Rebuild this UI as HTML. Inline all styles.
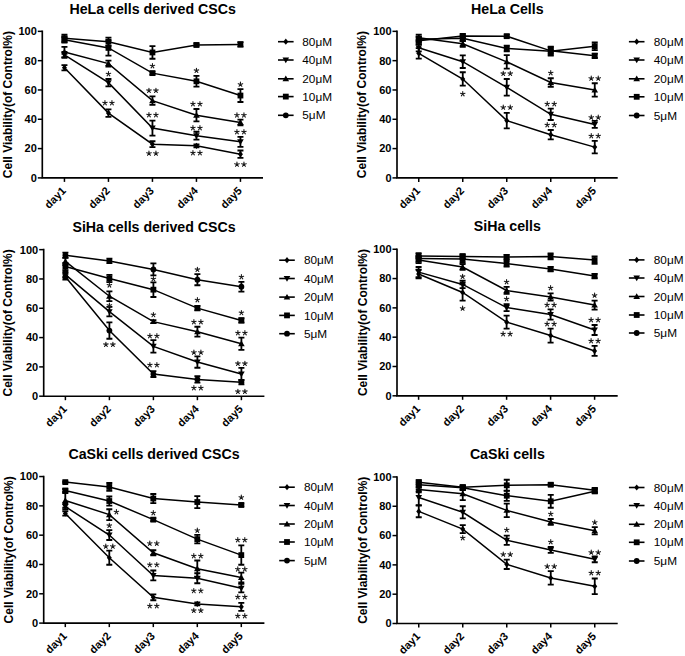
<!DOCTYPE html>
<html><head><meta charset="utf-8"><style>
html,body{margin:0;padding:0;background:#fff;overflow:hidden;}
svg{display:block;}
text{font-family:"Liberation Sans", sans-serif;fill:#000;}
</style></head><body>
<svg width="685" height="656" viewBox="0 0 685 656">
<rect width="685" height="656" fill="#fff"/>
<path d="M42.30 30.55V177.90H263.00" fill="none" stroke="#000" stroke-width="1.65"/>
<path d="M37.80 177.90H42.30" stroke="#000" stroke-width="1.5"/>
<text x="36.80" y="181.80" text-anchor="end" font-size="11" font-weight="bold">0</text>
<path d="M37.80 148.59H42.30" stroke="#000" stroke-width="1.5"/>
<text x="36.80" y="152.49" text-anchor="end" font-size="11" font-weight="bold">20</text>
<path d="M37.80 119.28H42.30" stroke="#000" stroke-width="1.5"/>
<text x="36.80" y="123.18" text-anchor="end" font-size="11" font-weight="bold">40</text>
<path d="M37.80 89.97H42.30" stroke="#000" stroke-width="1.5"/>
<text x="36.80" y="93.87" text-anchor="end" font-size="11" font-weight="bold">60</text>
<path d="M37.80 60.66H42.30" stroke="#000" stroke-width="1.5"/>
<text x="36.80" y="64.56" text-anchor="end" font-size="11" font-weight="bold">80</text>
<path d="M37.80 31.35H42.30" stroke="#000" stroke-width="1.5"/>
<text x="36.80" y="35.25" text-anchor="end" font-size="11" font-weight="bold">100</text>
<path d="M64.45 177.90V181.90" stroke="#000" stroke-width="1.5"/>
<text transform="translate(66.65 191.40) rotate(-45)" text-anchor="end" font-size="11" font-weight="bold">day1</text>
<path d="M108.45 177.90V181.90" stroke="#000" stroke-width="1.5"/>
<text transform="translate(110.65 191.40) rotate(-45)" text-anchor="end" font-size="11" font-weight="bold">day2</text>
<path d="M152.45 177.90V181.90" stroke="#000" stroke-width="1.5"/>
<text transform="translate(154.65 191.40) rotate(-45)" text-anchor="end" font-size="11" font-weight="bold">day3</text>
<path d="M196.45 177.90V181.90" stroke="#000" stroke-width="1.5"/>
<text transform="translate(198.65 191.40) rotate(-45)" text-anchor="end" font-size="11" font-weight="bold">day4</text>
<path d="M240.45 177.90V181.90" stroke="#000" stroke-width="1.5"/>
<text transform="translate(242.65 191.40) rotate(-45)" text-anchor="end" font-size="11" font-weight="bold">day5</text>
<text transform="translate(11.80 104.62) rotate(-90)" text-anchor="middle" font-size="12" font-weight="bold">Cell Viability(of Control%)</text>
<text x="152.65" y="13.55" text-anchor="middle" font-size="14.2" font-weight="bold">HeLa cells derived CSCs</text>
<path d="M278.00 41.70H293.60" stroke="#000" stroke-width="1.6"/>
<path d="M285.80 38.60L288.30 41.70L285.80 44.80L283.30 41.70Z"/>
<text x="302.30" y="45.80" font-size="11.8" fill="#1a1a1a">80μM</text>
<path d="M278.00 60.00H293.60" stroke="#000" stroke-width="1.6"/>
<path d="M285.80 63.20L289.10 57.50L282.50 57.50Z"/>
<text x="302.30" y="64.10" font-size="11.8" fill="#1a1a1a">40μM</text>
<path d="M278.00 78.80H293.60" stroke="#000" stroke-width="1.6"/>
<path d="M285.80 75.60L289.10 81.30L282.50 81.30Z"/>
<text x="302.30" y="82.90" font-size="11.8" fill="#1a1a1a">20μM</text>
<path d="M278.00 96.60H293.60" stroke="#000" stroke-width="1.6"/>
<rect x="282.90" y="93.70" width="5.80" height="5.80"/>
<text x="302.30" y="100.70" font-size="11.8" fill="#1a1a1a">10μM</text>
<path d="M278.00 115.30H293.60" stroke="#000" stroke-width="1.6"/>
<circle cx="285.80" cy="115.30" r="2.90"/>
<text x="302.30" y="119.40" font-size="11.8" fill="#1a1a1a">5μM</text>
<polyline fill="none" stroke="#000" stroke-width="1.5" points="64.45,38.24 108.45,41.76 152.45,52.45 196.45,44.98 240.45,44.39"/>
<path d="M64.45 34.57V41.90M61.45 34.57H67.45M61.45 41.90H67.45" stroke="#000" stroke-width="1.8" fill="none"/>
<rect x="61.55" y="35.34" width="5.80" height="5.80"/>
<path d="M108.45 37.65V45.86M105.45 37.65H111.45M105.45 45.86H111.45" stroke="#000" stroke-width="1.8" fill="none"/>
<rect x="105.55" y="38.86" width="5.80" height="5.80"/>
<path d="M152.45 46.15V58.75M149.45 46.15H155.45M149.45 58.75H155.45" stroke="#000" stroke-width="1.8" fill="none"/>
<rect x="149.55" y="49.55" width="5.80" height="5.80"/>
<path d="M196.45 43.51V46.44M193.45 43.51H199.45M193.45 46.44H199.45" stroke="#000" stroke-width="1.8" fill="none"/>
<rect x="193.55" y="42.08" width="5.80" height="5.80"/>
<path d="M240.45 42.19V46.59M237.45 42.19H243.45M237.45 46.59H243.45" stroke="#000" stroke-width="1.8" fill="none"/>
<rect x="237.55" y="41.49" width="5.80" height="5.80"/>
<polyline fill="none" stroke="#000" stroke-width="1.5" points="64.45,39.70 108.45,47.91 152.45,73.12 196.45,81.32 240.45,95.54"/>
<path d="M64.45 36.77V42.63M61.45 36.77H67.45M61.45 42.63H67.45" stroke="#000" stroke-width="1.8" fill="none"/>
<rect x="61.55" y="36.80" width="5.80" height="5.80"/>
<path d="M108.45 40.29V55.53M105.45 40.29H111.45M105.45 55.53H111.45" stroke="#000" stroke-width="1.8" fill="none"/>
<rect x="105.55" y="45.01" width="5.80" height="5.80"/>
<path d="M152.45 71.65V74.58M149.45 71.65H155.45M149.45 74.58H155.45" stroke="#000" stroke-width="1.8" fill="none"/>
<rect x="149.55" y="70.22" width="5.80" height="5.80"/>
<path d="M196.45 75.97V86.67M193.45 75.97H199.45M193.45 86.67H199.45" stroke="#000" stroke-width="1.8" fill="none"/>
<rect x="193.55" y="78.42" width="5.80" height="5.80"/>
<path d="M240.45 89.09V101.99M237.45 89.09H243.45M237.45 101.99H243.45" stroke="#000" stroke-width="1.8" fill="none"/>
<rect x="237.55" y="92.64" width="5.80" height="5.80"/>
<polyline fill="none" stroke="#000" stroke-width="1.5" points="64.45,52.01 108.45,63.59 152.45,100.67 196.45,115.18 240.45,122.50"/>
<path d="M64.45 46.88V57.14M61.45 46.88H67.45M61.45 57.14H67.45" stroke="#000" stroke-width="1.8" fill="none"/>
<path d="M64.45 48.81L67.75 54.51L61.15 54.51Z"/>
<path d="M108.45 60.66V66.52M105.45 60.66H111.45M105.45 66.52H111.45" stroke="#000" stroke-width="1.8" fill="none"/>
<path d="M108.45 60.39L111.75 66.09L105.15 66.09Z"/>
<path d="M152.45 96.42V104.92M149.45 96.42H155.45M149.45 104.92H155.45" stroke="#000" stroke-width="1.8" fill="none"/>
<path d="M152.45 97.47L155.75 103.17L149.15 103.17Z"/>
<path d="M196.45 109.02V121.33M193.45 109.02H199.45M193.45 121.33H199.45" stroke="#000" stroke-width="1.8" fill="none"/>
<path d="M196.45 111.98L199.75 117.68L193.15 117.68Z"/>
<path d="M240.45 119.57V125.44M237.45 119.57H243.45M237.45 125.44H243.45" stroke="#000" stroke-width="1.8" fill="none"/>
<path d="M240.45 119.30L243.75 125.00L237.15 125.00Z"/>
<polyline fill="none" stroke="#000" stroke-width="1.5" points="64.45,54.94 108.45,82.64 152.45,128.07 196.45,135.69 240.45,141.85"/>
<path d="M64.45 52.01V57.88M61.45 52.01H67.45M61.45 57.88H67.45" stroke="#000" stroke-width="1.8" fill="none"/>
<path d="M64.45 58.14L67.75 52.44L61.15 52.44Z"/>
<path d="M108.45 78.98V86.31M105.45 78.98H111.45M105.45 86.31H111.45" stroke="#000" stroke-width="1.8" fill="none"/>
<path d="M108.45 85.84L111.75 80.14L105.15 80.14Z"/>
<path d="M152.45 120.60V135.55M149.45 120.60H155.45M149.45 135.55H155.45" stroke="#000" stroke-width="1.8" fill="none"/>
<path d="M152.45 131.27L155.75 125.57L149.15 125.57Z"/>
<path d="M196.45 131.74V139.65M193.45 131.74H199.45M193.45 139.65H199.45" stroke="#000" stroke-width="1.8" fill="none"/>
<path d="M196.45 138.89L199.75 133.19L193.15 133.19Z"/>
<path d="M240.45 136.87V146.83M237.45 136.87H243.45M237.45 146.83H243.45" stroke="#000" stroke-width="1.8" fill="none"/>
<path d="M240.45 145.05L243.75 139.35L237.15 139.35Z"/>
<polyline fill="none" stroke="#000" stroke-width="1.5" points="64.45,67.69 108.45,113.12 152.45,144.19 196.45,145.81 240.45,154.16"/>
<path d="M64.45 65.06V70.33M61.45 65.06H67.45M61.45 70.33H67.45" stroke="#000" stroke-width="1.8" fill="none"/>
<path d="M64.45 64.59L66.95 67.69L64.45 70.79L61.95 67.69Z"/>
<path d="M108.45 109.46V116.79M105.45 109.46H111.45M105.45 116.79H111.45" stroke="#000" stroke-width="1.8" fill="none"/>
<path d="M108.45 110.02L110.95 113.12L108.45 116.22L105.95 113.12Z"/>
<path d="M152.45 141.26V147.12M149.45 141.26H155.45M149.45 147.12H155.45" stroke="#000" stroke-width="1.8" fill="none"/>
<path d="M152.45 141.09L154.95 144.19L152.45 147.29L149.95 144.19Z"/>
<path d="M196.45 144.34V147.27M193.45 144.34H199.45M193.45 147.27H199.45" stroke="#000" stroke-width="1.8" fill="none"/>
<path d="M196.45 142.71L198.95 145.81L196.45 148.91L193.95 145.81Z"/>
<path d="M240.45 150.50V157.82M237.45 150.50H243.45M237.45 157.82H243.45" stroke="#000" stroke-width="1.8" fill="none"/>
<path d="M240.45 151.06L242.95 154.16L240.45 157.26L237.95 154.16Z"/>
<path d="M108.45 74.00L108.45 71.65M108.45 74.00L110.68 73.27M108.45 74.00L109.83 75.90M108.45 74.00L107.07 75.90M108.45 74.00L106.22 73.27" stroke="#1a1a1a" stroke-width="1.1" stroke-linecap="round" fill="none"/>
<path d="M104.95 103.00L104.95 100.65M104.95 103.00L107.18 102.27M104.95 103.00L106.33 104.90M104.95 103.00L103.57 104.90M104.95 103.00L102.72 102.27M111.95 103.00L111.95 100.65M111.95 103.00L114.18 102.27M111.95 103.00L113.33 104.90M111.95 103.00L110.57 104.90M111.95 103.00L109.72 102.27" stroke="#1a1a1a" stroke-width="1.1" stroke-linecap="round" fill="none"/>
<path d="M152.45 66.00L152.45 63.65M152.45 66.00L154.68 65.27M152.45 66.00L153.83 67.90M152.45 66.00L151.07 67.90M152.45 66.00L150.22 65.27" stroke="#1a1a1a" stroke-width="1.1" stroke-linecap="round" fill="none"/>
<path d="M148.95 90.60L148.95 88.25M148.95 90.60L151.18 89.87M148.95 90.60L150.33 92.50M148.95 90.60L147.57 92.50M148.95 90.60L146.72 89.87M155.95 90.60L155.95 88.25M155.95 90.60L158.18 89.87M155.95 90.60L157.33 92.50M155.95 90.60L154.57 92.50M155.95 90.60L153.72 89.87" stroke="#1a1a1a" stroke-width="1.1" stroke-linecap="round" fill="none"/>
<path d="M148.95 115.00L148.95 112.65M148.95 115.00L151.18 114.27M148.95 115.00L150.33 116.90M148.95 115.00L147.57 116.90M148.95 115.00L146.72 114.27M155.95 115.00L155.95 112.65M155.95 115.00L158.18 114.27M155.95 115.00L157.33 116.90M155.95 115.00L154.57 116.90M155.95 115.00L153.72 114.27" stroke="#1a1a1a" stroke-width="1.1" stroke-linecap="round" fill="none"/>
<path d="M148.95 153.40L148.95 151.05M148.95 153.40L151.18 152.67M148.95 153.40L150.33 155.30M148.95 153.40L147.57 155.30M148.95 153.40L146.72 152.67M155.95 153.40L155.95 151.05M155.95 153.40L158.18 152.67M155.95 153.40L157.33 155.30M155.95 153.40L154.57 155.30M155.95 153.40L153.72 152.67" stroke="#1a1a1a" stroke-width="1.1" stroke-linecap="round" fill="none"/>
<path d="M196.45 70.60L196.45 68.25M196.45 70.60L198.68 69.87M196.45 70.60L197.83 72.50M196.45 70.60L195.07 72.50M196.45 70.60L194.22 69.87" stroke="#1a1a1a" stroke-width="1.1" stroke-linecap="round" fill="none"/>
<path d="M192.95 104.00L192.95 101.65M192.95 104.00L195.18 103.27M192.95 104.00L194.33 105.90M192.95 104.00L191.57 105.90M192.95 104.00L190.72 103.27M199.95 104.00L199.95 101.65M199.95 104.00L202.18 103.27M199.95 104.00L201.33 105.90M199.95 104.00L198.57 105.90M199.95 104.00L197.72 103.27" stroke="#1a1a1a" stroke-width="1.1" stroke-linecap="round" fill="none"/>
<path d="M192.95 128.00L192.95 125.65M192.95 128.00L195.18 127.27M192.95 128.00L194.33 129.90M192.95 128.00L191.57 129.90M192.95 128.00L190.72 127.27M199.95 128.00L199.95 125.65M199.95 128.00L202.18 127.27M199.95 128.00L201.33 129.90M199.95 128.00L198.57 129.90M199.95 128.00L197.72 127.27" stroke="#1a1a1a" stroke-width="1.1" stroke-linecap="round" fill="none"/>
<path d="M192.95 153.00L192.95 150.65M192.95 153.00L195.18 152.27M192.95 153.00L194.33 154.90M192.95 153.00L191.57 154.90M192.95 153.00L190.72 152.27M199.95 153.00L199.95 150.65M199.95 153.00L202.18 152.27M199.95 153.00L201.33 154.90M199.95 153.00L198.57 154.90M199.95 153.00L197.72 152.27" stroke="#1a1a1a" stroke-width="1.1" stroke-linecap="round" fill="none"/>
<path d="M240.45 84.40L240.45 82.05M240.45 84.40L242.68 83.67M240.45 84.40L241.83 86.30M240.45 84.40L239.07 86.30M240.45 84.40L238.22 83.67" stroke="#1a1a1a" stroke-width="1.1" stroke-linecap="round" fill="none"/>
<path d="M236.95 115.20L236.95 112.85M236.95 115.20L239.18 114.47M236.95 115.20L238.33 117.10M236.95 115.20L235.57 117.10M236.95 115.20L234.72 114.47M243.95 115.20L243.95 112.85M243.95 115.20L246.18 114.47M243.95 115.20L245.33 117.10M243.95 115.20L242.57 117.10M243.95 115.20L241.72 114.47" stroke="#1a1a1a" stroke-width="1.1" stroke-linecap="round" fill="none"/>
<path d="M236.95 132.00L236.95 129.65M236.95 132.00L239.18 131.27M236.95 132.00L238.33 133.90M236.95 132.00L235.57 133.90M236.95 132.00L234.72 131.27M243.95 132.00L243.95 129.65M243.95 132.00L246.18 131.27M243.95 132.00L245.33 133.90M243.95 132.00L242.57 133.90M243.95 132.00L241.72 131.27" stroke="#1a1a1a" stroke-width="1.1" stroke-linecap="round" fill="none"/>
<path d="M236.95 164.40L236.95 162.05M236.95 164.40L239.18 163.67M236.95 164.40L238.33 166.30M236.95 164.40L235.57 166.30M236.95 164.40L234.72 163.67M243.95 164.40L243.95 162.05M243.95 164.40L246.18 163.67M243.95 164.40L245.33 166.30M243.95 164.40L242.57 166.30M243.95 164.40L241.72 163.67" stroke="#1a1a1a" stroke-width="1.1" stroke-linecap="round" fill="none"/>
<path d="M397.00 30.55V177.90H617.70" fill="none" stroke="#000" stroke-width="1.65"/>
<path d="M392.50 177.90H397.00" stroke="#000" stroke-width="1.5"/>
<text x="391.50" y="181.80" text-anchor="end" font-size="11" font-weight="bold">0</text>
<path d="M392.50 148.59H397.00" stroke="#000" stroke-width="1.5"/>
<text x="391.50" y="152.49" text-anchor="end" font-size="11" font-weight="bold">20</text>
<path d="M392.50 119.28H397.00" stroke="#000" stroke-width="1.5"/>
<text x="391.50" y="123.18" text-anchor="end" font-size="11" font-weight="bold">40</text>
<path d="M392.50 89.97H397.00" stroke="#000" stroke-width="1.5"/>
<text x="391.50" y="93.87" text-anchor="end" font-size="11" font-weight="bold">60</text>
<path d="M392.50 60.66H397.00" stroke="#000" stroke-width="1.5"/>
<text x="391.50" y="64.56" text-anchor="end" font-size="11" font-weight="bold">80</text>
<path d="M392.50 31.35H397.00" stroke="#000" stroke-width="1.5"/>
<text x="391.50" y="35.25" text-anchor="end" font-size="11" font-weight="bold">100</text>
<path d="M418.75 177.90V181.90" stroke="#000" stroke-width="1.5"/>
<text transform="translate(420.95 191.40) rotate(-45)" text-anchor="end" font-size="11" font-weight="bold">day1</text>
<path d="M462.75 177.90V181.90" stroke="#000" stroke-width="1.5"/>
<text transform="translate(464.95 191.40) rotate(-45)" text-anchor="end" font-size="11" font-weight="bold">day2</text>
<path d="M506.75 177.90V181.90" stroke="#000" stroke-width="1.5"/>
<text transform="translate(508.95 191.40) rotate(-45)" text-anchor="end" font-size="11" font-weight="bold">day3</text>
<path d="M550.75 177.90V181.90" stroke="#000" stroke-width="1.5"/>
<text transform="translate(552.95 191.40) rotate(-45)" text-anchor="end" font-size="11" font-weight="bold">day4</text>
<path d="M594.75 177.90V181.90" stroke="#000" stroke-width="1.5"/>
<text transform="translate(596.95 191.40) rotate(-45)" text-anchor="end" font-size="11" font-weight="bold">day5</text>
<text transform="translate(366.00 104.62) rotate(-90)" text-anchor="middle" font-size="12" font-weight="bold">Cell Viability(of Control%)</text>
<text x="507.35" y="13.55" text-anchor="middle" font-size="14.2" font-weight="bold">HeLa Cells</text>
<path d="M628.90 41.70H644.50" stroke="#000" stroke-width="1.6"/>
<path d="M636.70 38.60L639.20 41.70L636.70 44.80L634.20 41.70Z"/>
<text x="653.80" y="45.80" font-size="11.8" fill="#1a1a1a">80μM</text>
<path d="M628.90 60.00H644.50" stroke="#000" stroke-width="1.6"/>
<path d="M636.70 63.20L640.00 57.50L633.40 57.50Z"/>
<text x="653.80" y="64.10" font-size="11.8" fill="#1a1a1a">40μM</text>
<path d="M628.90 78.80H644.50" stroke="#000" stroke-width="1.6"/>
<path d="M636.70 75.60L640.00 81.30L633.40 81.30Z"/>
<text x="653.80" y="82.90" font-size="11.8" fill="#1a1a1a">20μM</text>
<path d="M628.90 96.80H644.50" stroke="#000" stroke-width="1.6"/>
<rect x="633.80" y="93.90" width="5.80" height="5.80"/>
<text x="653.80" y="100.90" font-size="11.8" fill="#1a1a1a">10μM</text>
<path d="M628.90 115.50H644.50" stroke="#000" stroke-width="1.6"/>
<circle cx="636.70" cy="115.50" r="2.90"/>
<text x="653.80" y="119.60" font-size="11.8" fill="#1a1a1a">5μM</text>
<polyline fill="none" stroke="#000" stroke-width="1.5" points="418.75,40.73 462.75,36.04 506.75,36.19 550.75,50.84 594.75,55.82"/>
<path d="M418.75 37.07V44.39M415.75 37.07H421.75M415.75 44.39H421.75" stroke="#000" stroke-width="1.8" fill="none"/>
<rect x="415.85" y="37.83" width="5.80" height="5.80"/>
<path d="M462.75 33.84V38.24M459.75 33.84H465.75M459.75 38.24H465.75" stroke="#000" stroke-width="1.8" fill="none"/>
<rect x="459.85" y="33.14" width="5.80" height="5.80"/>
<path d="M506.75 34.72V37.65M503.75 34.72H509.75M503.75 37.65H509.75" stroke="#000" stroke-width="1.8" fill="none"/>
<rect x="503.85" y="33.29" width="5.80" height="5.80"/>
<path d="M550.75 47.18V54.50M547.75 47.18H553.75M547.75 54.50H553.75" stroke="#000" stroke-width="1.8" fill="none"/>
<rect x="547.85" y="47.94" width="5.80" height="5.80"/>
<path d="M594.75 53.63V58.02M591.75 53.63H597.75M591.75 58.02H597.75" stroke="#000" stroke-width="1.8" fill="none"/>
<rect x="591.85" y="52.92" width="5.80" height="5.80"/>
<polyline fill="none" stroke="#000" stroke-width="1.5" points="418.75,39.26 462.75,38.24 506.75,48.50 550.75,51.13 594.75,46.30"/>
<path d="M418.75 36.33V42.19M415.75 36.33H421.75M415.75 42.19H421.75" stroke="#000" stroke-width="1.8" fill="none"/>
<rect x="415.85" y="36.36" width="5.80" height="5.80"/>
<path d="M462.75 35.31V41.17M459.75 35.31H465.75M459.75 41.17H465.75" stroke="#000" stroke-width="1.8" fill="none"/>
<rect x="459.85" y="35.34" width="5.80" height="5.80"/>
<path d="M506.75 45.57V51.43M503.75 45.57H509.75M503.75 51.43H509.75" stroke="#000" stroke-width="1.8" fill="none"/>
<rect x="503.85" y="45.60" width="5.80" height="5.80"/>
<path d="M550.75 46.74V55.53M547.75 46.74H553.75M547.75 55.53H553.75" stroke="#000" stroke-width="1.8" fill="none"/>
<rect x="547.85" y="48.23" width="5.80" height="5.80"/>
<path d="M594.75 42.49V50.11M591.75 42.49H597.75M591.75 50.11H597.75" stroke="#000" stroke-width="1.8" fill="none"/>
<rect x="591.85" y="43.40" width="5.80" height="5.80"/>
<polyline fill="none" stroke="#000" stroke-width="1.5" points="418.75,37.65 462.75,43.81 506.75,61.83 550.75,82.50 594.75,89.97"/>
<path d="M418.75 34.72V40.58M415.75 34.72H421.75M415.75 40.58H421.75" stroke="#000" stroke-width="1.8" fill="none"/>
<path d="M418.75 34.45L422.05 40.15L415.45 40.15Z"/>
<path d="M462.75 40.88V46.74M459.75 40.88H465.75M459.75 46.74H465.75" stroke="#000" stroke-width="1.8" fill="none"/>
<path d="M462.75 40.61L466.05 46.31L459.45 46.31Z"/>
<path d="M506.75 55.09V68.57M503.75 55.09H509.75M503.75 68.57H509.75" stroke="#000" stroke-width="1.8" fill="none"/>
<path d="M506.75 58.63L510.05 64.33L503.45 64.33Z"/>
<path d="M550.75 78.25V86.75M547.75 78.25H553.75M547.75 86.75H553.75" stroke="#000" stroke-width="1.8" fill="none"/>
<path d="M550.75 79.30L554.05 85.00L547.45 85.00Z"/>
<path d="M594.75 83.23V96.71M591.75 83.23H597.75M591.75 96.71H597.75" stroke="#000" stroke-width="1.8" fill="none"/>
<path d="M594.75 86.77L598.05 92.47L591.45 92.47Z"/>
<polyline fill="none" stroke="#000" stroke-width="1.5" points="418.75,47.76 462.75,61.69 506.75,87.33 550.75,114.30 594.75,124.41"/>
<path d="M418.75 44.10V51.43M415.75 44.10H421.75M415.75 51.43H421.75" stroke="#000" stroke-width="1.8" fill="none"/>
<path d="M418.75 50.96L422.05 45.26L415.45 45.26Z"/>
<path d="M462.75 55.38V67.99M459.75 55.38H465.75M459.75 67.99H465.75" stroke="#000" stroke-width="1.8" fill="none"/>
<path d="M462.75 64.89L466.05 59.19L459.45 59.19Z"/>
<path d="M506.75 78.98V95.69M503.75 78.98H509.75M503.75 95.69H509.75" stroke="#000" stroke-width="1.8" fill="none"/>
<path d="M506.75 90.53L510.05 84.83L503.45 84.83Z"/>
<path d="M550.75 108.58V120.01M547.75 108.58H553.75M547.75 120.01H553.75" stroke="#000" stroke-width="1.8" fill="none"/>
<path d="M550.75 117.50L554.05 111.80L547.45 111.80Z"/>
<path d="M594.75 120.89V127.93M591.75 120.89H597.75M591.75 127.93H597.75" stroke="#000" stroke-width="1.8" fill="none"/>
<path d="M594.75 127.61L598.05 121.91L591.45 121.91Z"/>
<polyline fill="none" stroke="#000" stroke-width="1.5" points="418.75,53.33 462.75,78.98 506.75,120.60 550.75,134.67 594.75,147.12"/>
<path d="M418.75 48.06V58.61M415.75 48.06H421.75M415.75 58.61H421.75" stroke="#000" stroke-width="1.8" fill="none"/>
<path d="M418.75 50.23L421.25 53.33L418.75 56.43L416.25 53.33Z"/>
<path d="M462.75 72.24V85.72M459.75 72.24H465.75M459.75 85.72H465.75" stroke="#000" stroke-width="1.8" fill="none"/>
<path d="M462.75 75.88L465.25 78.98L462.75 82.08L460.25 78.98Z"/>
<path d="M506.75 112.83V128.37M503.75 112.83H509.75M503.75 128.37H509.75" stroke="#000" stroke-width="1.8" fill="none"/>
<path d="M506.75 117.50L509.25 120.60L506.75 123.70L504.25 120.60Z"/>
<path d="M550.75 129.98V139.36M547.75 129.98H553.75M547.75 139.36H553.75" stroke="#000" stroke-width="1.8" fill="none"/>
<path d="M550.75 131.57L553.25 134.67L550.75 137.77L548.25 134.67Z"/>
<path d="M594.75 140.97V153.28M591.75 140.97H597.75M591.75 153.28H597.75" stroke="#000" stroke-width="1.8" fill="none"/>
<path d="M594.75 144.02L597.25 147.12L594.75 150.22L592.25 147.12Z"/>
<path d="M462.75 94.00L462.75 91.65M462.75 94.00L464.98 93.27M462.75 94.00L464.13 95.90M462.75 94.00L461.37 95.90M462.75 94.00L460.52 93.27" stroke="#1a1a1a" stroke-width="1.1" stroke-linecap="round" fill="none"/>
<path d="M503.25 73.60L503.25 71.25M503.25 73.60L505.48 72.87M503.25 73.60L504.63 75.50M503.25 73.60L501.87 75.50M503.25 73.60L501.02 72.87M510.25 73.60L510.25 71.25M510.25 73.60L512.48 72.87M510.25 73.60L511.63 75.50M510.25 73.60L508.87 75.50M510.25 73.60L508.02 72.87" stroke="#1a1a1a" stroke-width="1.1" stroke-linecap="round" fill="none"/>
<path d="M503.25 107.40L503.25 105.05M503.25 107.40L505.48 106.67M503.25 107.40L504.63 109.30M503.25 107.40L501.87 109.30M503.25 107.40L501.02 106.67M510.25 107.40L510.25 105.05M510.25 107.40L512.48 106.67M510.25 107.40L511.63 109.30M510.25 107.40L508.87 109.30M510.25 107.40L508.02 106.67" stroke="#1a1a1a" stroke-width="1.1" stroke-linecap="round" fill="none"/>
<path d="M550.75 73.00L550.75 70.65M550.75 73.00L552.98 72.27M550.75 73.00L552.13 74.90M550.75 73.00L549.37 74.90M550.75 73.00L548.52 72.27" stroke="#1a1a1a" stroke-width="1.1" stroke-linecap="round" fill="none"/>
<path d="M547.25 104.00L547.25 101.65M547.25 104.00L549.48 103.27M547.25 104.00L548.63 105.90M547.25 104.00L545.87 105.90M547.25 104.00L545.02 103.27M554.25 104.00L554.25 101.65M554.25 104.00L556.48 103.27M554.25 104.00L555.63 105.90M554.25 104.00L552.87 105.90M554.25 104.00L552.02 103.27" stroke="#1a1a1a" stroke-width="1.1" stroke-linecap="round" fill="none"/>
<path d="M547.25 125.00L547.25 122.65M547.25 125.00L549.48 124.27M547.25 125.00L548.63 126.90M547.25 125.00L545.87 126.90M547.25 125.00L545.02 124.27M554.25 125.00L554.25 122.65M554.25 125.00L556.48 124.27M554.25 125.00L555.63 126.90M554.25 125.00L552.87 126.90M554.25 125.00L552.02 124.27" stroke="#1a1a1a" stroke-width="1.1" stroke-linecap="round" fill="none"/>
<path d="M591.25 78.40L591.25 76.05M591.25 78.40L593.48 77.67M591.25 78.40L592.63 80.30M591.25 78.40L589.87 80.30M591.25 78.40L589.02 77.67M598.25 78.40L598.25 76.05M598.25 78.40L600.48 77.67M598.25 78.40L599.63 80.30M598.25 78.40L596.87 80.30M598.25 78.40L596.02 77.67" stroke="#1a1a1a" stroke-width="1.1" stroke-linecap="round" fill="none"/>
<path d="M591.25 117.40L591.25 115.05M591.25 117.40L593.48 116.67M591.25 117.40L592.63 119.30M591.25 117.40L589.87 119.30M591.25 117.40L589.02 116.67M598.25 117.40L598.25 115.05M598.25 117.40L600.48 116.67M598.25 117.40L599.63 119.30M598.25 117.40L596.87 119.30M598.25 117.40L596.02 116.67" stroke="#1a1a1a" stroke-width="1.1" stroke-linecap="round" fill="none"/>
<path d="M591.25 136.00L591.25 133.65M591.25 136.00L593.48 135.27M591.25 136.00L592.63 137.90M591.25 136.00L589.87 137.90M591.25 136.00L589.02 135.27M598.25 136.00L598.25 133.65M598.25 136.00L600.48 135.27M598.25 136.00L599.63 137.90M598.25 136.00L596.87 137.90M598.25 136.00L596.02 135.27" stroke="#1a1a1a" stroke-width="1.1" stroke-linecap="round" fill="none"/>
<path d="M43.70 248.85V396.20H264.40" fill="none" stroke="#000" stroke-width="1.65"/>
<path d="M39.20 396.20H43.70" stroke="#000" stroke-width="1.5"/>
<text x="38.20" y="400.10" text-anchor="end" font-size="11" font-weight="bold">0</text>
<path d="M39.20 366.89H43.70" stroke="#000" stroke-width="1.5"/>
<text x="38.20" y="370.79" text-anchor="end" font-size="11" font-weight="bold">20</text>
<path d="M39.20 337.58H43.70" stroke="#000" stroke-width="1.5"/>
<text x="38.20" y="341.48" text-anchor="end" font-size="11" font-weight="bold">40</text>
<path d="M39.20 308.27H43.70" stroke="#000" stroke-width="1.5"/>
<text x="38.20" y="312.17" text-anchor="end" font-size="11" font-weight="bold">60</text>
<path d="M39.20 278.96H43.70" stroke="#000" stroke-width="1.5"/>
<text x="38.20" y="282.86" text-anchor="end" font-size="11" font-weight="bold">80</text>
<path d="M39.20 249.65H43.70" stroke="#000" stroke-width="1.5"/>
<text x="38.20" y="253.55" text-anchor="end" font-size="11" font-weight="bold">100</text>
<path d="M65.40 396.20V400.20" stroke="#000" stroke-width="1.5"/>
<text transform="translate(67.60 409.70) rotate(-45)" text-anchor="end" font-size="11" font-weight="bold">day1</text>
<path d="M109.40 396.20V400.20" stroke="#000" stroke-width="1.5"/>
<text transform="translate(111.60 409.70) rotate(-45)" text-anchor="end" font-size="11" font-weight="bold">day2</text>
<path d="M153.40 396.20V400.20" stroke="#000" stroke-width="1.5"/>
<text transform="translate(155.60 409.70) rotate(-45)" text-anchor="end" font-size="11" font-weight="bold">day3</text>
<path d="M197.40 396.20V400.20" stroke="#000" stroke-width="1.5"/>
<text transform="translate(199.60 409.70) rotate(-45)" text-anchor="end" font-size="11" font-weight="bold">day4</text>
<path d="M241.40 396.20V400.20" stroke="#000" stroke-width="1.5"/>
<text transform="translate(243.60 409.70) rotate(-45)" text-anchor="end" font-size="11" font-weight="bold">day5</text>
<text transform="translate(12.00 322.92) rotate(-90)" text-anchor="middle" font-size="12" font-weight="bold">Cell Viability(of Control%)</text>
<text x="154.05" y="231.85" text-anchor="middle" font-size="14.2" font-weight="bold">SiHa cells derived CSCs</text>
<path d="M279.20 260.20H294.80" stroke="#000" stroke-width="1.6"/>
<path d="M287.00 257.10L289.50 260.20L287.00 263.30L284.50 260.20Z"/>
<text x="303.90" y="264.30" font-size="11.8" fill="#1a1a1a">80μM</text>
<path d="M279.20 278.50H294.80" stroke="#000" stroke-width="1.6"/>
<path d="M287.00 281.70L290.30 276.00L283.70 276.00Z"/>
<text x="303.90" y="282.60" font-size="11.8" fill="#1a1a1a">40μM</text>
<path d="M279.20 297.10H294.80" stroke="#000" stroke-width="1.6"/>
<path d="M287.00 293.90L290.30 299.60L283.70 299.60Z"/>
<text x="303.90" y="301.20" font-size="11.8" fill="#1a1a1a">20μM</text>
<path d="M279.20 315.40H294.80" stroke="#000" stroke-width="1.6"/>
<rect x="284.10" y="312.50" width="5.80" height="5.80"/>
<text x="303.90" y="319.50" font-size="11.8" fill="#1a1a1a">10μM</text>
<path d="M279.20 333.70H294.80" stroke="#000" stroke-width="1.6"/>
<circle cx="287.00" cy="333.70" r="2.90"/>
<text x="303.90" y="337.80" font-size="11.8" fill="#1a1a1a">5μM</text>
<polyline fill="none" stroke="#000" stroke-width="1.5" points="65.40,255.22 109.40,260.93 153.40,269.43 197.40,279.69 241.40,286.73"/>
<path d="M65.40 252.58V257.86M62.40 252.58H68.40M62.40 257.86H68.40" stroke="#000" stroke-width="1.8" fill="none"/>
<circle cx="65.40" cy="255.22" r="2.90"/>
<path d="M109.40 258.74V263.13M106.40 258.74H112.40M106.40 263.13H112.40" stroke="#000" stroke-width="1.8" fill="none"/>
<circle cx="109.40" cy="260.93" r="2.90"/>
<path d="M153.40 263.43V275.44M150.40 263.43H156.40M150.40 275.44H156.40" stroke="#000" stroke-width="1.8" fill="none"/>
<circle cx="153.40" cy="269.43" r="2.90"/>
<path d="M197.40 274.12V285.26M194.40 274.12H200.40M194.40 285.26H200.40" stroke="#000" stroke-width="1.8" fill="none"/>
<circle cx="197.40" cy="279.69" r="2.90"/>
<path d="M241.40 281.89V291.56M238.40 281.89H244.40M238.40 291.56H244.40" stroke="#000" stroke-width="1.8" fill="none"/>
<circle cx="241.40" cy="286.73" r="2.90"/>
<polyline fill="none" stroke="#000" stroke-width="1.5" points="65.40,266.50 109.40,278.52 153.40,289.66 197.40,308.12 241.40,320.43"/>
<path d="M65.40 262.84V270.17M62.40 262.84H68.40M62.40 270.17H68.40" stroke="#000" stroke-width="1.8" fill="none"/>
<rect x="62.50" y="263.60" width="5.80" height="5.80"/>
<path d="M109.40 274.86V282.18M106.40 274.86H112.40M106.40 282.18H112.40" stroke="#000" stroke-width="1.8" fill="none"/>
<rect x="106.50" y="275.62" width="5.80" height="5.80"/>
<path d="M153.40 282.33V296.99M150.40 282.33H156.40M150.40 296.99H156.40" stroke="#000" stroke-width="1.8" fill="none"/>
<rect x="150.50" y="286.76" width="5.80" height="5.80"/>
<path d="M197.40 305.93V310.32M194.40 305.93H200.40M194.40 310.32H200.40" stroke="#000" stroke-width="1.8" fill="none"/>
<rect x="194.50" y="305.22" width="5.80" height="5.80"/>
<path d="M241.40 318.24V322.63M238.40 318.24H244.40M238.40 322.63H244.40" stroke="#000" stroke-width="1.8" fill="none"/>
<rect x="238.50" y="317.53" width="5.80" height="5.80"/>
<polyline fill="none" stroke="#000" stroke-width="1.5" points="65.40,261.37 109.40,296.25 153.40,321.61 197.40,331.72 241.40,343.74"/>
<path d="M65.40 257.71V265.04M62.40 257.71H68.40M62.40 265.04H68.40" stroke="#000" stroke-width="1.8" fill="none"/>
<path d="M65.40 258.17L68.70 263.87L62.10 263.87Z"/>
<path d="M109.40 291.42V301.09M106.40 291.42H112.40M106.40 301.09H112.40" stroke="#000" stroke-width="1.8" fill="none"/>
<path d="M109.40 293.05L112.70 298.75L106.10 298.75Z"/>
<path d="M153.40 320.14V323.07M150.40 320.14H156.40M150.40 323.07H156.40" stroke="#000" stroke-width="1.8" fill="none"/>
<path d="M153.40 318.41L156.70 324.11L150.10 324.11Z"/>
<path d="M197.40 326.74V336.70M194.40 326.74H200.40M194.40 336.70H200.40" stroke="#000" stroke-width="1.8" fill="none"/>
<path d="M197.40 328.52L200.70 334.22L194.10 334.22Z"/>
<path d="M241.40 337.58V349.89M238.40 337.58H244.40M238.40 349.89H244.40" stroke="#000" stroke-width="1.8" fill="none"/>
<path d="M241.40 340.54L244.70 346.24L238.10 346.24Z"/>
<polyline fill="none" stroke="#000" stroke-width="1.5" points="65.40,274.56 109.40,311.64 153.40,346.37 197.40,362.05 241.40,374.07"/>
<path d="M65.40 271.63V277.49M62.40 271.63H68.40M62.40 277.49H68.40" stroke="#000" stroke-width="1.8" fill="none"/>
<path d="M65.40 277.76L68.70 272.06L62.10 272.06Z"/>
<path d="M109.40 306.95V316.33M106.40 306.95H112.40M106.40 316.33H112.40" stroke="#000" stroke-width="1.8" fill="none"/>
<path d="M109.40 314.84L112.70 309.14L106.10 309.14Z"/>
<path d="M153.40 340.22V352.53M150.40 340.22H156.40M150.40 352.53H156.40" stroke="#000" stroke-width="1.8" fill="none"/>
<path d="M153.40 349.57L156.70 343.87L150.10 343.87Z"/>
<path d="M197.40 356.34V367.77M194.40 356.34H200.40M194.40 367.77H200.40" stroke="#000" stroke-width="1.8" fill="none"/>
<path d="M197.40 365.25L200.70 359.55L194.10 359.55Z"/>
<path d="M241.40 367.92V380.23M238.40 367.92H244.40M238.40 380.23H244.40" stroke="#000" stroke-width="1.8" fill="none"/>
<path d="M241.40 377.27L244.70 371.57L238.10 371.57Z"/>
<polyline fill="none" stroke="#000" stroke-width="1.5" points="65.40,276.76 109.40,330.55 153.40,374.07 197.40,379.49 241.40,382.13"/>
<path d="M65.40 273.83V279.69M62.40 273.83H68.40M62.40 279.69H68.40" stroke="#000" stroke-width="1.8" fill="none"/>
<circle cx="65.40" cy="276.76" r="2.90"/>
<path d="M109.40 322.34V338.75M106.40 322.34H112.40M106.40 338.75H112.40" stroke="#000" stroke-width="1.8" fill="none"/>
<circle cx="109.40" cy="330.55" r="2.90"/>
<path d="M153.40 371.14V377.00M150.40 371.14H156.40M150.40 377.00H156.40" stroke="#000" stroke-width="1.8" fill="none"/>
<circle cx="153.40" cy="374.07" r="2.90"/>
<path d="M197.40 376.27V382.72M194.40 376.27H200.40M194.40 382.72H200.40" stroke="#000" stroke-width="1.8" fill="none"/>
<circle cx="197.40" cy="379.49" r="2.90"/>
<path d="M241.40 379.93V384.33M238.40 379.93H244.40M238.40 384.33H244.40" stroke="#000" stroke-width="1.8" fill="none"/>
<circle cx="241.40" cy="382.13" r="2.90"/>
<path d="M109.40 285.20L109.40 282.85M109.40 285.20L111.63 284.47M109.40 285.20L110.78 287.10M109.40 285.20L108.02 287.10M109.40 285.20L107.17 284.47" stroke="#1a1a1a" stroke-width="1.1" stroke-linecap="round" fill="none"/>
<path d="M109.40 305.40L109.40 303.05M109.40 305.40L111.63 304.67M109.40 305.40L110.78 307.30M109.40 305.40L108.02 307.30M109.40 305.40L107.17 304.67" stroke="#1a1a1a" stroke-width="1.1" stroke-linecap="round" fill="none"/>
<path d="M105.90 344.60L105.90 342.25M105.90 344.60L108.13 343.87M105.90 344.60L107.28 346.50M105.90 344.60L104.52 346.50M105.90 344.60L103.67 343.87M112.90 344.60L112.90 342.25M112.90 344.60L115.13 343.87M112.90 344.60L114.28 346.50M112.90 344.60L111.52 346.50M112.90 344.60L110.67 343.87" stroke="#1a1a1a" stroke-width="1.1" stroke-linecap="round" fill="none"/>
<path d="M153.40 279.00L153.40 276.65M153.40 279.00L155.63 278.27M153.40 279.00L154.78 280.90M153.40 279.00L152.02 280.90M153.40 279.00L151.17 278.27" stroke="#1a1a1a" stroke-width="1.1" stroke-linecap="round" fill="none"/>
<path d="M153.40 314.80L153.40 312.45M153.40 314.80L155.63 314.07M153.40 314.80L154.78 316.70M153.40 314.80L152.02 316.70M153.40 314.80L151.17 314.07" stroke="#1a1a1a" stroke-width="1.1" stroke-linecap="round" fill="none"/>
<path d="M149.90 336.00L149.90 333.65M149.90 336.00L152.13 335.27M149.90 336.00L151.28 337.90M149.90 336.00L148.52 337.90M149.90 336.00L147.67 335.27M156.90 336.00L156.90 333.65M156.90 336.00L159.13 335.27M156.90 336.00L158.28 337.90M156.90 336.00L155.52 337.90M156.90 336.00L154.67 335.27" stroke="#1a1a1a" stroke-width="1.1" stroke-linecap="round" fill="none"/>
<path d="M149.90 365.00L149.90 362.65M149.90 365.00L152.13 364.27M149.90 365.00L151.28 366.90M149.90 365.00L148.52 366.90M149.90 365.00L147.67 364.27M156.90 365.00L156.90 362.65M156.90 365.00L159.13 364.27M156.90 365.00L158.28 366.90M156.90 365.00L155.52 366.90M156.90 365.00L154.67 364.27" stroke="#1a1a1a" stroke-width="1.1" stroke-linecap="round" fill="none"/>
<path d="M197.40 269.60L197.40 267.25M197.40 269.60L199.63 268.87M197.40 269.60L198.78 271.50M197.40 269.60L196.02 271.50M197.40 269.60L195.17 268.87" stroke="#1a1a1a" stroke-width="1.1" stroke-linecap="round" fill="none"/>
<path d="M197.40 300.00L197.40 297.65M197.40 300.00L199.63 299.27M197.40 300.00L198.78 301.90M197.40 300.00L196.02 301.90M197.40 300.00L195.17 299.27" stroke="#1a1a1a" stroke-width="1.1" stroke-linecap="round" fill="none"/>
<path d="M193.90 322.00L193.90 319.65M193.90 322.00L196.13 321.27M193.90 322.00L195.28 323.90M193.90 322.00L192.52 323.90M193.90 322.00L191.67 321.27M200.90 322.00L200.90 319.65M200.90 322.00L203.13 321.27M200.90 322.00L202.28 323.90M200.90 322.00L199.52 323.90M200.90 322.00L198.67 321.27" stroke="#1a1a1a" stroke-width="1.1" stroke-linecap="round" fill="none"/>
<path d="M193.90 352.40L193.90 350.05M193.90 352.40L196.13 351.67M193.90 352.40L195.28 354.30M193.90 352.40L192.52 354.30M193.90 352.40L191.67 351.67M200.90 352.40L200.90 350.05M200.90 352.40L203.13 351.67M200.90 352.40L202.28 354.30M200.90 352.40L199.52 354.30M200.90 352.40L198.67 351.67" stroke="#1a1a1a" stroke-width="1.1" stroke-linecap="round" fill="none"/>
<path d="M193.90 388.00L193.90 385.65M193.90 388.00L196.13 387.27M193.90 388.00L195.28 389.90M193.90 388.00L192.52 389.90M193.90 388.00L191.67 387.27M200.90 388.00L200.90 385.65M200.90 388.00L203.13 387.27M200.90 388.00L202.28 389.90M200.90 388.00L199.52 389.90M200.90 388.00L198.67 387.27" stroke="#1a1a1a" stroke-width="1.1" stroke-linecap="round" fill="none"/>
<path d="M241.40 277.00L241.40 274.65M241.40 277.00L243.63 276.27M241.40 277.00L242.78 278.90M241.40 277.00L240.02 278.90M241.40 277.00L239.17 276.27" stroke="#1a1a1a" stroke-width="1.1" stroke-linecap="round" fill="none"/>
<path d="M241.40 312.80L241.40 310.45M241.40 312.80L243.63 312.07M241.40 312.80L242.78 314.70M241.40 312.80L240.02 314.70M241.40 312.80L239.17 312.07" stroke="#1a1a1a" stroke-width="1.1" stroke-linecap="round" fill="none"/>
<path d="M237.90 333.00L237.90 330.65M237.90 333.00L240.13 332.27M237.90 333.00L239.28 334.90M237.90 333.00L236.52 334.90M237.90 333.00L235.67 332.27M244.90 333.00L244.90 330.65M244.90 333.00L247.13 332.27M244.90 333.00L246.28 334.90M244.90 333.00L243.52 334.90M244.90 333.00L242.67 332.27" stroke="#1a1a1a" stroke-width="1.1" stroke-linecap="round" fill="none"/>
<path d="M237.90 363.60L237.90 361.25M237.90 363.60L240.13 362.87M237.90 363.60L239.28 365.50M237.90 363.60L236.52 365.50M237.90 363.60L235.67 362.87M244.90 363.60L244.90 361.25M244.90 363.60L247.13 362.87M244.90 363.60L246.28 365.50M244.90 363.60L243.52 365.50M244.90 363.60L242.67 362.87" stroke="#1a1a1a" stroke-width="1.1" stroke-linecap="round" fill="none"/>
<path d="M237.90 391.60L237.90 389.25M237.90 391.60L240.13 390.87M237.90 391.60L239.28 393.50M237.90 391.60L236.52 393.50M237.90 391.60L235.67 390.87M244.90 391.60L244.90 389.25M244.90 391.60L247.13 390.87M244.90 391.60L246.28 393.50M244.90 391.60L243.52 393.50M244.90 391.60L242.67 390.87" stroke="#1a1a1a" stroke-width="1.1" stroke-linecap="round" fill="none"/>
<path d="M397.00 248.45V395.80H617.70" fill="none" stroke="#000" stroke-width="1.65"/>
<path d="M392.50 395.80H397.00" stroke="#000" stroke-width="1.5"/>
<text x="391.50" y="399.70" text-anchor="end" font-size="11" font-weight="bold">0</text>
<path d="M392.50 366.49H397.00" stroke="#000" stroke-width="1.5"/>
<text x="391.50" y="370.39" text-anchor="end" font-size="11" font-weight="bold">20</text>
<path d="M392.50 337.18H397.00" stroke="#000" stroke-width="1.5"/>
<text x="391.50" y="341.08" text-anchor="end" font-size="11" font-weight="bold">40</text>
<path d="M392.50 307.87H397.00" stroke="#000" stroke-width="1.5"/>
<text x="391.50" y="311.77" text-anchor="end" font-size="11" font-weight="bold">60</text>
<path d="M392.50 278.56H397.00" stroke="#000" stroke-width="1.5"/>
<text x="391.50" y="282.46" text-anchor="end" font-size="11" font-weight="bold">80</text>
<path d="M392.50 249.25H397.00" stroke="#000" stroke-width="1.5"/>
<text x="391.50" y="253.15" text-anchor="end" font-size="11" font-weight="bold">100</text>
<path d="M418.60 395.80V399.80" stroke="#000" stroke-width="1.5"/>
<text transform="translate(420.80 409.30) rotate(-45)" text-anchor="end" font-size="11" font-weight="bold">day1</text>
<path d="M462.60 395.80V399.80" stroke="#000" stroke-width="1.5"/>
<text transform="translate(464.80 409.30) rotate(-45)" text-anchor="end" font-size="11" font-weight="bold">day2</text>
<path d="M506.60 395.80V399.80" stroke="#000" stroke-width="1.5"/>
<text transform="translate(508.80 409.30) rotate(-45)" text-anchor="end" font-size="11" font-weight="bold">day3</text>
<path d="M550.60 395.80V399.80" stroke="#000" stroke-width="1.5"/>
<text transform="translate(552.80 409.30) rotate(-45)" text-anchor="end" font-size="11" font-weight="bold">day4</text>
<path d="M594.60 395.80V399.80" stroke="#000" stroke-width="1.5"/>
<text transform="translate(596.80 409.30) rotate(-45)" text-anchor="end" font-size="11" font-weight="bold">day5</text>
<text transform="translate(366.50 322.52) rotate(-90)" text-anchor="middle" font-size="12" font-weight="bold">Cell Viability(of Control%)</text>
<text x="507.35" y="231.45" text-anchor="middle" font-size="14.2" font-weight="bold">SiHa cells</text>
<path d="M628.90 259.90H644.50" stroke="#000" stroke-width="1.6"/>
<path d="M636.70 256.80L639.20 259.90L636.70 263.00L634.20 259.90Z"/>
<text x="653.80" y="264.00" font-size="11.8" fill="#1a1a1a">80μM</text>
<path d="M628.90 278.00H644.50" stroke="#000" stroke-width="1.6"/>
<path d="M636.70 281.20L640.00 275.50L633.40 275.50Z"/>
<text x="653.80" y="282.10" font-size="11.8" fill="#1a1a1a">40μM</text>
<path d="M628.90 296.50H644.50" stroke="#000" stroke-width="1.6"/>
<path d="M636.70 293.30L640.00 299.00L633.40 299.00Z"/>
<text x="653.80" y="300.60" font-size="11.8" fill="#1a1a1a">20μM</text>
<path d="M628.90 315.00H644.50" stroke="#000" stroke-width="1.6"/>
<rect x="633.80" y="312.10" width="5.80" height="5.80"/>
<text x="653.80" y="319.10" font-size="11.8" fill="#1a1a1a">10μM</text>
<path d="M628.90 333.00H644.50" stroke="#000" stroke-width="1.6"/>
<circle cx="636.70" cy="333.00" r="2.90"/>
<text x="653.80" y="337.10" font-size="11.8" fill="#1a1a1a">5μM</text>
<polyline fill="none" stroke="#000" stroke-width="1.5" points="418.60,255.99 462.60,256.43 506.60,257.02 550.60,256.43 594.60,260.09"/>
<path d="M418.60 253.06V258.92M415.60 253.06H421.60M415.60 258.92H421.60" stroke="#000" stroke-width="1.8" fill="none"/>
<rect x="415.70" y="253.09" width="5.80" height="5.80"/>
<path d="M462.60 254.23V258.63M459.60 254.23H465.60M459.60 258.63H465.60" stroke="#000" stroke-width="1.8" fill="none"/>
<rect x="459.70" y="253.53" width="5.80" height="5.80"/>
<path d="M506.60 254.82V259.22M503.60 254.82H509.60M503.60 259.22H509.60" stroke="#000" stroke-width="1.8" fill="none"/>
<rect x="503.70" y="254.12" width="5.80" height="5.80"/>
<path d="M550.60 253.50V259.36M547.60 253.50H553.60M547.60 259.36H553.60" stroke="#000" stroke-width="1.8" fill="none"/>
<rect x="547.70" y="253.53" width="5.80" height="5.80"/>
<path d="M594.60 256.43V263.76M591.60 256.43H597.60M591.60 263.76H597.60" stroke="#000" stroke-width="1.8" fill="none"/>
<rect x="591.70" y="257.19" width="5.80" height="5.80"/>
<polyline fill="none" stroke="#000" stroke-width="1.5" points="418.60,258.48 462.60,259.07 506.60,263.61 550.60,269.03 594.60,276.07"/>
<path d="M418.60 255.55V261.41M415.60 255.55H421.60M415.60 261.41H421.60" stroke="#000" stroke-width="1.8" fill="none"/>
<rect x="415.70" y="255.58" width="5.80" height="5.80"/>
<path d="M462.60 255.41V262.73M459.60 255.41H465.60M459.60 262.73H465.60" stroke="#000" stroke-width="1.8" fill="none"/>
<rect x="459.70" y="256.17" width="5.80" height="5.80"/>
<path d="M506.60 260.68V266.54M503.60 260.68H509.60M503.60 266.54H509.60" stroke="#000" stroke-width="1.8" fill="none"/>
<rect x="503.70" y="260.71" width="5.80" height="5.80"/>
<path d="M550.60 266.84V271.23M547.60 266.84H553.60M547.60 271.23H553.60" stroke="#000" stroke-width="1.8" fill="none"/>
<rect x="547.70" y="266.13" width="5.80" height="5.80"/>
<path d="M594.60 273.87V278.27M591.60 273.87H597.60M591.60 278.27H597.60" stroke="#000" stroke-width="1.8" fill="none"/>
<rect x="591.70" y="273.17" width="5.80" height="5.80"/>
<polyline fill="none" stroke="#000" stroke-width="1.5" points="418.60,260.09 462.60,266.98 506.60,290.43 550.60,297.03 594.60,305.09"/>
<path d="M418.60 257.16V263.03M415.60 257.16H421.60M415.60 263.03H421.60" stroke="#000" stroke-width="1.8" fill="none"/>
<path d="M418.60 256.89L421.90 262.59L415.30 262.59Z"/>
<path d="M462.60 264.05V269.91M459.60 264.05H465.60M459.60 269.91H465.60" stroke="#000" stroke-width="1.8" fill="none"/>
<path d="M462.60 263.78L465.90 269.48L459.30 269.48Z"/>
<path d="M506.60 286.91V293.95M503.60 286.91H509.60M503.60 293.95H509.60" stroke="#000" stroke-width="1.8" fill="none"/>
<path d="M506.60 287.23L509.90 292.93L503.30 292.93Z"/>
<path d="M550.60 293.36V300.69M547.60 293.36H553.60M547.60 300.69H553.60" stroke="#000" stroke-width="1.8" fill="none"/>
<path d="M550.60 293.83L553.90 299.53L547.30 299.53Z"/>
<path d="M594.60 300.54V309.63M591.60 300.54H597.60M591.60 309.63H597.60" stroke="#000" stroke-width="1.8" fill="none"/>
<path d="M594.60 301.89L597.90 307.59L591.30 307.59Z"/>
<polyline fill="none" stroke="#000" stroke-width="1.5" points="418.60,272.11 462.60,284.42 506.60,307.58 550.60,314.46 594.60,330.00"/>
<path d="M418.60 266.98V277.24M415.60 266.98H421.60M415.60 277.24H421.60" stroke="#000" stroke-width="1.8" fill="none"/>
<path d="M418.60 275.31L421.90 269.61L415.30 269.61Z"/>
<path d="M462.60 280.76V288.09M459.60 280.76H465.60M459.60 288.09H465.60" stroke="#000" stroke-width="1.8" fill="none"/>
<path d="M462.60 287.62L465.90 281.92L459.30 281.92Z"/>
<path d="M506.60 304.06V311.09M503.60 304.06H509.60M503.60 311.09H509.60" stroke="#000" stroke-width="1.8" fill="none"/>
<path d="M506.60 310.78L509.90 305.08L503.30 305.08Z"/>
<path d="M550.60 309.34V319.59M547.60 309.34H553.60M547.60 319.59H553.60" stroke="#000" stroke-width="1.8" fill="none"/>
<path d="M550.60 317.66L553.90 311.96L547.30 311.96Z"/>
<path d="M594.60 325.02V334.98M591.60 325.02H597.60M591.60 334.98H597.60" stroke="#000" stroke-width="1.8" fill="none"/>
<path d="M594.60 333.20L597.90 327.50L591.30 327.50Z"/>
<polyline fill="none" stroke="#000" stroke-width="1.5" points="418.60,274.02 462.60,292.48 506.60,322.09 550.60,335.57 594.60,350.96"/>
<path d="M418.60 269.62V278.41M415.60 269.62H421.60M415.60 278.41H421.60" stroke="#000" stroke-width="1.8" fill="none"/>
<path d="M418.60 270.92L421.10 274.02L418.60 277.12L416.10 274.02Z"/>
<path d="M462.60 284.42V300.54M459.60 284.42H465.60M459.60 300.54H465.60" stroke="#000" stroke-width="1.8" fill="none"/>
<path d="M462.60 289.38L465.10 292.48L462.60 295.58L460.10 292.48Z"/>
<path d="M506.60 315.64V328.53M503.60 315.64H509.60M503.60 328.53H509.60" stroke="#000" stroke-width="1.8" fill="none"/>
<path d="M506.60 318.99L509.10 322.09L506.60 325.19L504.10 322.09Z"/>
<path d="M550.60 328.53V342.60M547.60 328.53H553.60M547.60 342.60H553.60" stroke="#000" stroke-width="1.8" fill="none"/>
<path d="M550.60 332.47L553.10 335.57L550.60 338.67L548.10 335.57Z"/>
<path d="M594.60 345.97V355.94M591.60 345.97H597.60M591.60 355.94H597.60" stroke="#000" stroke-width="1.8" fill="none"/>
<path d="M594.60 347.86L597.10 350.96L594.60 354.06L592.10 350.96Z"/>
<path d="M462.60 276.60L462.60 274.25M462.60 276.60L464.83 275.87M462.60 276.60L463.98 278.50M462.60 276.60L461.22 278.50M462.60 276.60L460.37 275.87" stroke="#1a1a1a" stroke-width="1.1" stroke-linecap="round" fill="none"/>
<path d="M462.60 308.40L462.60 306.05M462.60 308.40L464.83 307.67M462.60 308.40L463.98 310.30M462.60 308.40L461.22 310.30M462.60 308.40L460.37 307.67" stroke="#1a1a1a" stroke-width="1.1" stroke-linecap="round" fill="none"/>
<path d="M506.60 282.00L506.60 279.65M506.60 282.00L508.83 281.27M506.60 282.00L507.98 283.90M506.60 282.00L505.22 283.90M506.60 282.00L504.37 281.27" stroke="#1a1a1a" stroke-width="1.1" stroke-linecap="round" fill="none"/>
<path d="M506.60 299.00L506.60 296.65M506.60 299.00L508.83 298.27M506.60 299.00L507.98 300.90M506.60 299.00L505.22 300.90M506.60 299.00L504.37 298.27" stroke="#1a1a1a" stroke-width="1.1" stroke-linecap="round" fill="none"/>
<path d="M503.10 334.00L503.10 331.65M503.10 334.00L505.33 333.27M503.10 334.00L504.48 335.90M503.10 334.00L501.72 335.90M503.10 334.00L500.87 333.27M510.10 334.00L510.10 331.65M510.10 334.00L512.33 333.27M510.10 334.00L511.48 335.90M510.10 334.00L508.72 335.90M510.10 334.00L507.87 333.27" stroke="#1a1a1a" stroke-width="1.1" stroke-linecap="round" fill="none"/>
<path d="M550.60 288.00L550.60 285.65M550.60 288.00L552.83 287.27M550.60 288.00L551.98 289.90M550.60 288.00L549.22 289.90M550.60 288.00L548.37 287.27" stroke="#1a1a1a" stroke-width="1.1" stroke-linecap="round" fill="none"/>
<path d="M547.10 305.00L547.10 302.65M547.10 305.00L549.33 304.27M547.10 305.00L548.48 306.90M547.10 305.00L545.72 306.90M547.10 305.00L544.87 304.27M554.10 305.00L554.10 302.65M554.10 305.00L556.33 304.27M554.10 305.00L555.48 306.90M554.10 305.00L552.72 306.90M554.10 305.00L551.87 304.27" stroke="#1a1a1a" stroke-width="1.1" stroke-linecap="round" fill="none"/>
<path d="M547.10 324.00L547.10 321.65M547.10 324.00L549.33 323.27M547.10 324.00L548.48 325.90M547.10 324.00L545.72 325.90M547.10 324.00L544.87 323.27M554.10 324.00L554.10 321.65M554.10 324.00L556.33 323.27M554.10 324.00L555.48 325.90M554.10 324.00L552.72 325.90M554.10 324.00L551.87 323.27" stroke="#1a1a1a" stroke-width="1.1" stroke-linecap="round" fill="none"/>
<path d="M594.60 295.40L594.60 293.05M594.60 295.40L596.83 294.67M594.60 295.40L595.98 297.30M594.60 295.40L593.22 297.30M594.60 295.40L592.37 294.67" stroke="#1a1a1a" stroke-width="1.1" stroke-linecap="round" fill="none"/>
<path d="M591.10 320.00L591.10 317.65M591.10 320.00L593.33 319.27M591.10 320.00L592.48 321.90M591.10 320.00L589.72 321.90M591.10 320.00L588.87 319.27M598.10 320.00L598.10 317.65M598.10 320.00L600.33 319.27M598.10 320.00L599.48 321.90M598.10 320.00L596.72 321.90M598.10 320.00L595.87 319.27" stroke="#1a1a1a" stroke-width="1.1" stroke-linecap="round" fill="none"/>
<path d="M591.10 341.00L591.10 338.65M591.10 341.00L593.33 340.27M591.10 341.00L592.48 342.90M591.10 341.00L589.72 342.90M591.10 341.00L588.87 340.27M598.10 341.00L598.10 338.65M598.10 341.00L600.33 340.27M598.10 341.00L599.48 342.90M598.10 341.00L596.72 342.90M598.10 341.00L595.87 340.27" stroke="#1a1a1a" stroke-width="1.1" stroke-linecap="round" fill="none"/>
<path d="M43.70 475.75V623.10H264.40" fill="none" stroke="#000" stroke-width="1.65"/>
<path d="M39.20 623.10H43.70" stroke="#000" stroke-width="1.5"/>
<text x="38.20" y="627.00" text-anchor="end" font-size="11" font-weight="bold">0</text>
<path d="M39.20 593.79H43.70" stroke="#000" stroke-width="1.5"/>
<text x="38.20" y="597.69" text-anchor="end" font-size="11" font-weight="bold">20</text>
<path d="M39.20 564.48H43.70" stroke="#000" stroke-width="1.5"/>
<text x="38.20" y="568.38" text-anchor="end" font-size="11" font-weight="bold">40</text>
<path d="M39.20 535.17H43.70" stroke="#000" stroke-width="1.5"/>
<text x="38.20" y="539.07" text-anchor="end" font-size="11" font-weight="bold">60</text>
<path d="M39.20 505.86H43.70" stroke="#000" stroke-width="1.5"/>
<text x="38.20" y="509.76" text-anchor="end" font-size="11" font-weight="bold">80</text>
<path d="M39.20 476.55H43.70" stroke="#000" stroke-width="1.5"/>
<text x="38.20" y="480.45" text-anchor="end" font-size="11" font-weight="bold">100</text>
<path d="M65.30 623.10V627.10" stroke="#000" stroke-width="1.5"/>
<text transform="translate(67.50 636.60) rotate(-45)" text-anchor="end" font-size="11" font-weight="bold">day1</text>
<path d="M109.30 623.10V627.10" stroke="#000" stroke-width="1.5"/>
<text transform="translate(111.50 636.60) rotate(-45)" text-anchor="end" font-size="11" font-weight="bold">day2</text>
<path d="M153.30 623.10V627.10" stroke="#000" stroke-width="1.5"/>
<text transform="translate(155.50 636.60) rotate(-45)" text-anchor="end" font-size="11" font-weight="bold">day3</text>
<path d="M197.30 623.10V627.10" stroke="#000" stroke-width="1.5"/>
<text transform="translate(199.50 636.60) rotate(-45)" text-anchor="end" font-size="11" font-weight="bold">day4</text>
<path d="M241.30 623.10V627.10" stroke="#000" stroke-width="1.5"/>
<text transform="translate(243.50 636.60) rotate(-45)" text-anchor="end" font-size="11" font-weight="bold">day5</text>
<text transform="translate(13.20 549.83) rotate(-90)" text-anchor="middle" font-size="12" font-weight="bold">Cell Viability(of Control%)</text>
<text x="154.05" y="458.75" text-anchor="middle" font-size="14.2" font-weight="bold">CaSki cells derived CSCs</text>
<path d="M279.20 487.20H294.80" stroke="#000" stroke-width="1.6"/>
<path d="M287.00 484.10L289.50 487.20L287.00 490.30L284.50 487.20Z"/>
<text x="303.90" y="491.30" font-size="11.8" fill="#1a1a1a">80μM</text>
<path d="M279.20 505.50H294.80" stroke="#000" stroke-width="1.6"/>
<path d="M287.00 508.70L290.30 503.00L283.70 503.00Z"/>
<text x="303.90" y="509.60" font-size="11.8" fill="#1a1a1a">40μM</text>
<path d="M279.20 524.00H294.80" stroke="#000" stroke-width="1.6"/>
<path d="M287.00 520.80L290.30 526.50L283.70 526.50Z"/>
<text x="303.90" y="528.10" font-size="11.8" fill="#1a1a1a">20μM</text>
<path d="M279.20 542.00H294.80" stroke="#000" stroke-width="1.6"/>
<rect x="284.10" y="539.10" width="5.80" height="5.80"/>
<text x="303.90" y="546.10" font-size="11.8" fill="#1a1a1a">10μM</text>
<path d="M279.20 560.60H294.80" stroke="#000" stroke-width="1.6"/>
<circle cx="287.00" cy="560.60" r="2.90"/>
<text x="303.90" y="564.70" font-size="11.8" fill="#1a1a1a">5μM</text>
<polyline fill="none" stroke="#000" stroke-width="1.5" points="65.30,482.12 109.30,486.96 153.30,498.53 197.30,502.05 241.30,504.98"/>
<path d="M65.30 481.39V482.85M62.30 481.39H68.30M62.30 482.85H68.30" stroke="#000" stroke-width="1.8" fill="none"/>
<rect x="62.40" y="479.22" width="5.80" height="5.80"/>
<path d="M109.30 483.00V490.91M106.30 483.00H112.30M106.30 490.91H112.30" stroke="#000" stroke-width="1.8" fill="none"/>
<rect x="106.40" y="484.06" width="5.80" height="5.80"/>
<path d="M153.30 493.99V503.08M150.30 493.99H156.30M150.30 503.08H156.30" stroke="#000" stroke-width="1.8" fill="none"/>
<rect x="150.40" y="495.63" width="5.80" height="5.80"/>
<path d="M197.30 496.04V508.06M194.30 496.04H200.30M194.30 508.06H200.30" stroke="#000" stroke-width="1.8" fill="none"/>
<rect x="194.40" y="499.15" width="5.80" height="5.80"/>
<path d="M241.30 503.52V506.45M238.30 503.52H244.30M238.30 506.45H244.30" stroke="#000" stroke-width="1.8" fill="none"/>
<rect x="238.40" y="502.08" width="5.80" height="5.80"/>
<polyline fill="none" stroke="#000" stroke-width="1.5" points="65.30,490.47 109.30,501.02 153.30,519.64 197.30,539.13 241.30,555.10"/>
<path d="M65.30 489.01V491.94M62.30 489.01H68.30M62.30 491.94H68.30" stroke="#000" stroke-width="1.8" fill="none"/>
<rect x="62.40" y="487.57" width="5.80" height="5.80"/>
<path d="M109.30 496.48V505.57M106.30 496.48H112.30M106.30 505.57H112.30" stroke="#000" stroke-width="1.8" fill="none"/>
<rect x="106.40" y="498.12" width="5.80" height="5.80"/>
<path d="M153.30 518.17V521.10M150.30 518.17H156.30M150.30 521.10H156.30" stroke="#000" stroke-width="1.8" fill="none"/>
<rect x="150.40" y="516.74" width="5.80" height="5.80"/>
<path d="M197.30 534.88V543.38M194.30 534.88H200.30M194.30 543.38H200.30" stroke="#000" stroke-width="1.8" fill="none"/>
<rect x="194.40" y="536.23" width="5.80" height="5.80"/>
<path d="M241.30 545.43V564.77M238.30 545.43H244.30M238.30 564.77H244.30" stroke="#000" stroke-width="1.8" fill="none"/>
<rect x="238.40" y="552.20" width="5.80" height="5.80"/>
<polyline fill="none" stroke="#000" stroke-width="1.5" points="65.30,500.44 109.30,514.65 153.30,552.76 197.30,568.73 241.30,577.52"/>
<path d="M65.30 493.11V507.77M62.30 493.11H68.30M62.30 507.77H68.30" stroke="#000" stroke-width="1.8" fill="none"/>
<path d="M65.30 497.24L68.60 502.94L62.00 502.94Z"/>
<path d="M109.30 509.23V520.08M106.30 509.23H112.30M106.30 520.08H112.30" stroke="#000" stroke-width="1.8" fill="none"/>
<path d="M109.30 511.45L112.60 517.15L106.00 517.15Z"/>
<path d="M153.30 550.26V555.25M150.30 550.26H156.30M150.30 555.25H156.30" stroke="#000" stroke-width="1.8" fill="none"/>
<path d="M153.30 549.56L156.60 555.26L150.00 555.26Z"/>
<path d="M197.30 560.52V576.94M194.30 560.52H200.30M194.30 576.94H200.30" stroke="#000" stroke-width="1.8" fill="none"/>
<path d="M197.30 565.53L200.60 571.23L194.00 571.23Z"/>
<path d="M241.30 572.54V582.51M238.30 572.54H244.30M238.30 582.51H244.30" stroke="#000" stroke-width="1.8" fill="none"/>
<path d="M241.30 574.32L244.60 580.02L238.00 580.02Z"/>
<polyline fill="none" stroke="#000" stroke-width="1.5" points="65.30,506.59 109.30,535.02 153.30,575.47 197.30,578.26 241.30,588.22"/>
<path d="M65.30 503.66V509.52M62.30 503.66H68.30M62.30 509.52H68.30" stroke="#000" stroke-width="1.8" fill="none"/>
<path d="M65.30 509.79L68.60 504.09L62.00 504.09Z"/>
<path d="M109.30 530.04V540.01M106.30 530.04H112.30M106.30 540.01H112.30" stroke="#000" stroke-width="1.8" fill="none"/>
<path d="M109.30 538.22L112.60 532.52L106.00 532.52Z"/>
<path d="M153.30 570.49V580.45M150.30 570.49H156.30M150.30 580.45H156.30" stroke="#000" stroke-width="1.8" fill="none"/>
<path d="M153.30 578.67L156.60 572.97L150.00 572.97Z"/>
<path d="M197.30 573.27V583.24M194.30 573.27H200.30M194.30 583.24H200.30" stroke="#000" stroke-width="1.8" fill="none"/>
<path d="M197.30 581.46L200.60 575.76L194.00 575.76Z"/>
<path d="M241.30 583.97V592.47M238.30 583.97H244.30M238.30 592.47H244.30" stroke="#000" stroke-width="1.8" fill="none"/>
<path d="M241.30 591.42L244.60 585.72L238.00 585.72Z"/>
<polyline fill="none" stroke="#000" stroke-width="1.5" points="65.30,513.48 109.30,557.74 153.30,597.31 197.30,603.90 241.30,606.83"/>
<path d="M65.30 511.28V515.68M62.30 511.28H68.30M62.30 515.68H68.30" stroke="#000" stroke-width="1.8" fill="none"/>
<path d="M65.30 510.38L67.80 513.48L65.30 516.58L62.80 513.48Z"/>
<path d="M109.30 550.70V564.77M106.30 550.70H112.30M106.30 564.77H112.30" stroke="#000" stroke-width="1.8" fill="none"/>
<path d="M109.30 554.64L111.80 557.74L109.30 560.84L106.80 557.74Z"/>
<path d="M153.30 594.38V600.24M150.30 594.38H156.30M150.30 600.24H156.30" stroke="#000" stroke-width="1.8" fill="none"/>
<path d="M153.30 594.21L155.80 597.31L153.30 600.41L150.80 597.31Z"/>
<path d="M197.30 602.44V605.37M194.30 602.44H200.30M194.30 605.37H200.30" stroke="#000" stroke-width="1.8" fill="none"/>
<path d="M197.30 600.80L199.80 603.90L197.30 607.00L194.80 603.90Z"/>
<path d="M241.30 602.88V610.79M238.30 602.88H244.30M238.30 610.79H244.30" stroke="#000" stroke-width="1.8" fill="none"/>
<path d="M241.30 603.73L243.80 606.83L241.30 609.93L238.80 606.83Z"/>
<path d="M116.40 512.00L116.40 509.65M116.40 512.00L118.63 511.27M116.40 512.00L117.78 513.90M116.40 512.00L115.02 513.90M116.40 512.00L114.17 511.27" stroke="#1a1a1a" stroke-width="1.1" stroke-linecap="round" fill="none"/>
<path d="M109.30 525.60L109.30 523.25M109.30 525.60L111.53 524.87M109.30 525.60L110.68 527.50M109.30 525.60L107.92 527.50M109.30 525.60L107.07 524.87" stroke="#1a1a1a" stroke-width="1.1" stroke-linecap="round" fill="none"/>
<path d="M105.80 546.40L105.80 544.05M105.80 546.40L108.03 545.67M105.80 546.40L107.18 548.30M105.80 546.40L104.42 548.30M105.80 546.40L103.57 545.67M112.80 546.40L112.80 544.05M112.80 546.40L115.03 545.67M112.80 546.40L114.18 548.30M112.80 546.40L111.42 548.30M112.80 546.40L110.57 545.67" stroke="#1a1a1a" stroke-width="1.1" stroke-linecap="round" fill="none"/>
<path d="M153.30 513.00L153.30 510.65M153.30 513.00L155.53 512.27M153.30 513.00L154.68 514.90M153.30 513.00L151.92 514.90M153.30 513.00L151.07 512.27" stroke="#1a1a1a" stroke-width="1.1" stroke-linecap="round" fill="none"/>
<path d="M149.80 543.50L149.80 541.15M149.80 543.50L152.03 542.77M149.80 543.50L151.18 545.40M149.80 543.50L148.42 545.40M149.80 543.50L147.57 542.77M156.80 543.50L156.80 541.15M156.80 543.50L159.03 542.77M156.80 543.50L158.18 545.40M156.80 543.50L155.42 545.40M156.80 543.50L154.57 542.77" stroke="#1a1a1a" stroke-width="1.1" stroke-linecap="round" fill="none"/>
<path d="M149.80 564.80L149.80 562.45M149.80 564.80L152.03 564.07M149.80 564.80L151.18 566.70M149.80 564.80L148.42 566.70M149.80 564.80L147.57 564.07M156.80 564.80L156.80 562.45M156.80 564.80L159.03 564.07M156.80 564.80L158.18 566.70M156.80 564.80L155.42 566.70M156.80 564.80L154.57 564.07" stroke="#1a1a1a" stroke-width="1.1" stroke-linecap="round" fill="none"/>
<path d="M149.80 606.00L149.80 603.65M149.80 606.00L152.03 605.27M149.80 606.00L151.18 607.90M149.80 606.00L148.42 607.90M149.80 606.00L147.57 605.27M156.80 606.00L156.80 603.65M156.80 606.00L159.03 605.27M156.80 606.00L158.18 607.90M156.80 606.00L155.42 607.90M156.80 606.00L154.57 605.27" stroke="#1a1a1a" stroke-width="1.1" stroke-linecap="round" fill="none"/>
<path d="M197.30 530.50L197.30 528.15M197.30 530.50L199.53 529.77M197.30 530.50L198.68 532.40M197.30 530.50L195.92 532.40M197.30 530.50L195.07 529.77" stroke="#1a1a1a" stroke-width="1.1" stroke-linecap="round" fill="none"/>
<path d="M193.80 556.00L193.80 553.65M193.80 556.00L196.03 555.27M193.80 556.00L195.18 557.90M193.80 556.00L192.42 557.90M193.80 556.00L191.57 555.27M200.80 556.00L200.80 553.65M200.80 556.00L203.03 555.27M200.80 556.00L202.18 557.90M200.80 556.00L199.42 557.90M200.80 556.00L198.57 555.27" stroke="#1a1a1a" stroke-width="1.1" stroke-linecap="round" fill="none"/>
<path d="M193.80 590.80L193.80 588.45M193.80 590.80L196.03 590.07M193.80 590.80L195.18 592.70M193.80 590.80L192.42 592.70M193.80 590.80L191.57 590.07M200.80 590.80L200.80 588.45M200.80 590.80L203.03 590.07M200.80 590.80L202.18 592.70M200.80 590.80L199.42 592.70M200.80 590.80L198.57 590.07" stroke="#1a1a1a" stroke-width="1.1" stroke-linecap="round" fill="none"/>
<path d="M193.80 610.60L193.80 608.25M193.80 610.60L196.03 609.87M193.80 610.60L195.18 612.50M193.80 610.60L192.42 612.50M193.80 610.60L191.57 609.87M200.80 610.60L200.80 608.25M200.80 610.60L203.03 609.87M200.80 610.60L202.18 612.50M200.80 610.60L199.42 612.50M200.80 610.60L198.57 609.87" stroke="#1a1a1a" stroke-width="1.1" stroke-linecap="round" fill="none"/>
<path d="M241.30 497.40L241.30 495.05M241.30 497.40L243.53 496.67M241.30 497.40L242.68 499.30M241.30 497.40L239.92 499.30M241.30 497.40L239.07 496.67" stroke="#1a1a1a" stroke-width="1.1" stroke-linecap="round" fill="none"/>
<path d="M237.80 540.00L237.80 537.65M237.80 540.00L240.03 539.27M237.80 540.00L239.18 541.90M237.80 540.00L236.42 541.90M237.80 540.00L235.57 539.27M244.80 540.00L244.80 537.65M244.80 540.00L247.03 539.27M244.80 540.00L246.18 541.90M244.80 540.00L243.42 541.90M244.80 540.00L242.57 539.27" stroke="#1a1a1a" stroke-width="1.1" stroke-linecap="round" fill="none"/>
<path d="M237.80 569.20L237.80 566.85M237.80 569.20L240.03 568.47M237.80 569.20L239.18 571.10M237.80 569.20L236.42 571.10M237.80 569.20L235.57 568.47M244.80 569.20L244.80 566.85M244.80 569.20L247.03 568.47M244.80 569.20L246.18 571.10M244.80 569.20L243.42 571.10M244.80 569.20L242.57 568.47" stroke="#1a1a1a" stroke-width="1.1" stroke-linecap="round" fill="none"/>
<path d="M237.80 597.00L237.80 594.65M237.80 597.00L240.03 596.27M237.80 597.00L239.18 598.90M237.80 597.00L236.42 598.90M237.80 597.00L235.57 596.27M244.80 597.00L244.80 594.65M244.80 597.00L247.03 596.27M244.80 597.00L246.18 598.90M244.80 597.00L243.42 598.90M244.80 597.00L242.57 596.27" stroke="#1a1a1a" stroke-width="1.1" stroke-linecap="round" fill="none"/>
<path d="M237.80 616.00L237.80 613.65M237.80 616.00L240.03 615.27M237.80 616.00L239.18 617.90M237.80 616.00L236.42 617.90M237.80 616.00L235.57 615.27M244.80 616.00L244.80 613.65M244.80 616.00L247.03 615.27M244.80 616.00L246.18 617.90M244.80 616.00L243.42 617.90M244.80 616.00L242.57 615.27" stroke="#1a1a1a" stroke-width="1.1" stroke-linecap="round" fill="none"/>
<path d="M397.00 476.15V623.50H617.70" fill="none" stroke="#000" stroke-width="1.65"/>
<path d="M392.50 623.50H397.00" stroke="#000" stroke-width="1.5"/>
<text x="391.50" y="627.40" text-anchor="end" font-size="11" font-weight="bold">0</text>
<path d="M392.50 594.19H397.00" stroke="#000" stroke-width="1.5"/>
<text x="391.50" y="598.09" text-anchor="end" font-size="11" font-weight="bold">20</text>
<path d="M392.50 564.88H397.00" stroke="#000" stroke-width="1.5"/>
<text x="391.50" y="568.78" text-anchor="end" font-size="11" font-weight="bold">40</text>
<path d="M392.50 535.57H397.00" stroke="#000" stroke-width="1.5"/>
<text x="391.50" y="539.47" text-anchor="end" font-size="11" font-weight="bold">60</text>
<path d="M392.50 506.26H397.00" stroke="#000" stroke-width="1.5"/>
<text x="391.50" y="510.16" text-anchor="end" font-size="11" font-weight="bold">80</text>
<path d="M392.50 476.95H397.00" stroke="#000" stroke-width="1.5"/>
<text x="391.50" y="480.85" text-anchor="end" font-size="11" font-weight="bold">100</text>
<path d="M418.75 623.50V627.50" stroke="#000" stroke-width="1.5"/>
<text transform="translate(420.95 637.00) rotate(-45)" text-anchor="end" font-size="11" font-weight="bold">day1</text>
<path d="M462.75 623.50V627.50" stroke="#000" stroke-width="1.5"/>
<text transform="translate(464.95 637.00) rotate(-45)" text-anchor="end" font-size="11" font-weight="bold">day2</text>
<path d="M506.75 623.50V627.50" stroke="#000" stroke-width="1.5"/>
<text transform="translate(508.95 637.00) rotate(-45)" text-anchor="end" font-size="11" font-weight="bold">day3</text>
<path d="M550.75 623.50V627.50" stroke="#000" stroke-width="1.5"/>
<text transform="translate(552.95 637.00) rotate(-45)" text-anchor="end" font-size="11" font-weight="bold">day4</text>
<path d="M594.75 623.50V627.50" stroke="#000" stroke-width="1.5"/>
<text transform="translate(596.95 637.00) rotate(-45)" text-anchor="end" font-size="11" font-weight="bold">day5</text>
<text transform="translate(366.50 550.23) rotate(-90)" text-anchor="middle" font-size="12" font-weight="bold">Cell Viability(of Control%)</text>
<text x="507.35" y="459.15" text-anchor="middle" font-size="14.2" font-weight="bold">CaSki cells</text>
<path d="M628.90 487.50H644.50" stroke="#000" stroke-width="1.6"/>
<path d="M636.70 484.40L639.20 487.50L636.70 490.60L634.20 487.50Z"/>
<text x="653.80" y="491.60" font-size="11.8" fill="#1a1a1a">80μM</text>
<path d="M628.90 505.50H644.50" stroke="#000" stroke-width="1.6"/>
<path d="M636.70 508.70L640.00 503.00L633.40 503.00Z"/>
<text x="653.80" y="509.60" font-size="11.8" fill="#1a1a1a">40μM</text>
<path d="M628.90 524.30H644.50" stroke="#000" stroke-width="1.6"/>
<path d="M636.70 521.10L640.00 526.80L633.40 526.80Z"/>
<text x="653.80" y="528.40" font-size="11.8" fill="#1a1a1a">20μM</text>
<path d="M628.90 542.30H644.50" stroke="#000" stroke-width="1.6"/>
<rect x="633.80" y="539.40" width="5.80" height="5.80"/>
<text x="653.80" y="546.40" font-size="11.8" fill="#1a1a1a">10μM</text>
<path d="M628.90 561.00H644.50" stroke="#000" stroke-width="1.6"/>
<circle cx="636.70" cy="561.00" r="2.90"/>
<text x="653.80" y="565.10" font-size="11.8" fill="#1a1a1a">5μM</text>
<polyline fill="none" stroke="#000" stroke-width="1.5" points="418.75,482.23 462.75,487.36 506.75,485.30 550.75,484.72 594.75,490.14"/>
<path d="M418.75 480.03V484.42M415.75 480.03H421.75M415.75 484.42H421.75" stroke="#000" stroke-width="1.8" fill="none"/>
<rect x="415.85" y="479.33" width="5.80" height="5.80"/>
<path d="M462.75 485.16V489.55M459.75 485.16H465.75M459.75 489.55H465.75" stroke="#000" stroke-width="1.8" fill="none"/>
<rect x="459.85" y="484.46" width="5.80" height="5.80"/>
<path d="M506.75 479.73V490.87M503.75 479.73H509.75M503.75 490.87H509.75" stroke="#000" stroke-width="1.8" fill="none"/>
<rect x="503.85" y="482.40" width="5.80" height="5.80"/>
<path d="M550.75 483.25V486.18M547.75 483.25H553.75M547.75 486.18H553.75" stroke="#000" stroke-width="1.8" fill="none"/>
<rect x="547.85" y="481.82" width="5.80" height="5.80"/>
<path d="M594.75 487.94V492.34M591.75 487.94H597.75M591.75 492.34H597.75" stroke="#000" stroke-width="1.8" fill="none"/>
<rect x="591.85" y="487.24" width="5.80" height="5.80"/>
<polyline fill="none" stroke="#000" stroke-width="1.5" points="418.75,484.86 462.75,487.79 506.75,495.71 550.75,501.28 594.75,491.17"/>
<path d="M418.75 481.93V487.79M415.75 481.93H421.75M415.75 487.79H421.75" stroke="#000" stroke-width="1.8" fill="none"/>
<rect x="415.85" y="481.96" width="5.80" height="5.80"/>
<path d="M462.75 485.60V489.99M459.75 485.60H465.75M459.75 489.99H465.75" stroke="#000" stroke-width="1.8" fill="none"/>
<rect x="459.85" y="484.89" width="5.80" height="5.80"/>
<path d="M506.75 490.58V500.84M503.75 490.58H509.75M503.75 500.84H509.75" stroke="#000" stroke-width="1.8" fill="none"/>
<rect x="503.85" y="492.81" width="5.80" height="5.80"/>
<path d="M550.75 494.83V507.73M547.75 494.83H553.75M547.75 507.73H553.75" stroke="#000" stroke-width="1.8" fill="none"/>
<rect x="547.85" y="498.38" width="5.80" height="5.80"/>
<path d="M594.75 488.97V493.36M591.75 488.97H597.75M591.75 493.36H597.75" stroke="#000" stroke-width="1.8" fill="none"/>
<rect x="591.85" y="488.27" width="5.80" height="5.80"/>
<polyline fill="none" stroke="#000" stroke-width="1.5" points="418.75,489.41 462.75,493.80 506.75,510.36 550.75,521.94 594.75,530.73"/>
<path d="M418.75 486.48V492.34M415.75 486.48H421.75M415.75 492.34H421.75" stroke="#000" stroke-width="1.8" fill="none"/>
<path d="M418.75 486.21L422.05 491.91L415.45 491.91Z"/>
<path d="M462.75 487.50V500.10M459.75 487.50H465.75M459.75 500.10H465.75" stroke="#000" stroke-width="1.8" fill="none"/>
<path d="M462.75 490.60L466.05 496.30L459.45 496.30Z"/>
<path d="M506.75 503.62V517.10M503.75 503.62H509.75M503.75 517.10H509.75" stroke="#000" stroke-width="1.8" fill="none"/>
<path d="M506.75 507.16L510.05 512.86L503.45 512.86Z"/>
<path d="M550.75 519.01V524.87M547.75 519.01H553.75M547.75 524.87H553.75" stroke="#000" stroke-width="1.8" fill="none"/>
<path d="M550.75 518.74L554.05 524.44L547.45 524.44Z"/>
<path d="M594.75 527.07V534.40M591.75 527.07H597.75M591.75 534.40H597.75" stroke="#000" stroke-width="1.8" fill="none"/>
<path d="M594.75 527.53L598.05 533.23L591.45 533.23Z"/>
<polyline fill="none" stroke="#000" stroke-width="1.5" points="418.75,497.47 462.75,512.27 506.75,540.26 550.75,549.93 594.75,559.31"/>
<path d="M418.75 489.85V505.09M415.75 489.85H421.75M415.75 505.09H421.75" stroke="#000" stroke-width="1.8" fill="none"/>
<path d="M418.75 500.67L422.05 494.97L415.45 494.97Z"/>
<path d="M462.75 506.26V518.28M459.75 506.26H465.75M459.75 518.28H465.75" stroke="#000" stroke-width="1.8" fill="none"/>
<path d="M462.75 515.47L466.05 509.77L459.45 509.77Z"/>
<path d="M506.75 535.57V544.95M503.75 535.57H509.75M503.75 544.95H509.75" stroke="#000" stroke-width="1.8" fill="none"/>
<path d="M506.75 543.46L510.05 537.76L503.45 537.76Z"/>
<path d="M550.75 547.00V552.86M547.75 547.00H553.75M547.75 552.86H553.75" stroke="#000" stroke-width="1.8" fill="none"/>
<path d="M550.75 553.13L554.05 547.43L547.45 547.43Z"/>
<path d="M594.75 556.38V562.24M591.75 556.38H597.75M591.75 562.24H597.75" stroke="#000" stroke-width="1.8" fill="none"/>
<path d="M594.75 562.51L598.05 556.81L591.45 556.81Z"/>
<polyline fill="none" stroke="#000" stroke-width="1.5" points="418.75,511.39 462.75,529.12 506.75,564.29 550.75,577.92 594.75,586.28"/>
<path d="M418.75 505.53V517.25M415.75 505.53H421.75M415.75 517.25H421.75" stroke="#000" stroke-width="1.8" fill="none"/>
<path d="M418.75 508.29L421.25 511.39L418.75 514.49L416.25 511.39Z"/>
<path d="M462.75 525.16V533.08M459.75 525.16H465.75M459.75 533.08H465.75" stroke="#000" stroke-width="1.8" fill="none"/>
<path d="M462.75 526.02L465.25 529.12L462.75 532.22L460.25 529.12Z"/>
<path d="M506.75 559.60V568.98M503.75 559.60H509.75M503.75 568.98H509.75" stroke="#000" stroke-width="1.8" fill="none"/>
<path d="M506.75 561.19L509.25 564.29L506.75 567.39L504.25 564.29Z"/>
<path d="M550.75 571.18V584.66M547.75 571.18H553.75M547.75 584.66H553.75" stroke="#000" stroke-width="1.8" fill="none"/>
<path d="M550.75 574.82L553.25 577.92L550.75 581.02L548.25 577.92Z"/>
<path d="M594.75 578.51V594.04M591.75 578.51H597.75M591.75 594.04H597.75" stroke="#000" stroke-width="1.8" fill="none"/>
<path d="M594.75 583.18L597.25 586.28L594.75 589.38L592.25 586.28Z"/>
<path d="M462.75 538.00L462.75 535.65M462.75 538.00L464.98 537.27M462.75 538.00L464.13 539.90M462.75 538.00L461.37 539.90M462.75 538.00L460.52 537.27" stroke="#1a1a1a" stroke-width="1.1" stroke-linecap="round" fill="none"/>
<path d="M506.75 530.00L506.75 527.65M506.75 530.00L508.98 529.27M506.75 530.00L508.13 531.90M506.75 530.00L505.37 531.90M506.75 530.00L504.52 529.27" stroke="#1a1a1a" stroke-width="1.1" stroke-linecap="round" fill="none"/>
<path d="M503.25 554.40L503.25 552.05M503.25 554.40L505.48 553.67M503.25 554.40L504.63 556.30M503.25 554.40L501.87 556.30M503.25 554.40L501.02 553.67M510.25 554.40L510.25 552.05M510.25 554.40L512.48 553.67M510.25 554.40L511.63 556.30M510.25 554.40L508.87 556.30M510.25 554.40L508.02 553.67" stroke="#1a1a1a" stroke-width="1.1" stroke-linecap="round" fill="none"/>
<path d="M550.75 514.00L550.75 511.65M550.75 514.00L552.98 513.27M550.75 514.00L552.13 515.90M550.75 514.00L549.37 515.90M550.75 514.00L548.52 513.27" stroke="#1a1a1a" stroke-width="1.1" stroke-linecap="round" fill="none"/>
<path d="M550.75 542.00L550.75 539.65M550.75 542.00L552.98 541.27M550.75 542.00L552.13 543.90M550.75 542.00L549.37 543.90M550.75 542.00L548.52 541.27" stroke="#1a1a1a" stroke-width="1.1" stroke-linecap="round" fill="none"/>
<path d="M547.25 566.40L547.25 564.05M547.25 566.40L549.48 565.67M547.25 566.40L548.63 568.30M547.25 566.40L545.87 568.30M547.25 566.40L545.02 565.67M554.25 566.40L554.25 564.05M554.25 566.40L556.48 565.67M554.25 566.40L555.63 568.30M554.25 566.40L552.87 568.30M554.25 566.40L552.02 565.67" stroke="#1a1a1a" stroke-width="1.1" stroke-linecap="round" fill="none"/>
<path d="M594.75 522.40L594.75 520.05M594.75 522.40L596.98 521.67M594.75 522.40L596.13 524.30M594.75 522.40L593.37 524.30M594.75 522.40L592.52 521.67" stroke="#1a1a1a" stroke-width="1.1" stroke-linecap="round" fill="none"/>
<path d="M591.25 552.40L591.25 550.05M591.25 552.40L593.48 551.67M591.25 552.40L592.63 554.30M591.25 552.40L589.87 554.30M591.25 552.40L589.02 551.67M598.25 552.40L598.25 550.05M598.25 552.40L600.48 551.67M598.25 552.40L599.63 554.30M598.25 552.40L596.87 554.30M598.25 552.40L596.02 551.67" stroke="#1a1a1a" stroke-width="1.1" stroke-linecap="round" fill="none"/>
<path d="M591.25 573.00L591.25 570.65M591.25 573.00L593.48 572.27M591.25 573.00L592.63 574.90M591.25 573.00L589.87 574.90M591.25 573.00L589.02 572.27M598.25 573.00L598.25 570.65M598.25 573.00L600.48 572.27M598.25 573.00L599.63 574.90M598.25 573.00L596.87 574.90M598.25 573.00L596.02 572.27" stroke="#1a1a1a" stroke-width="1.1" stroke-linecap="round" fill="none"/>
</svg></body></html>
